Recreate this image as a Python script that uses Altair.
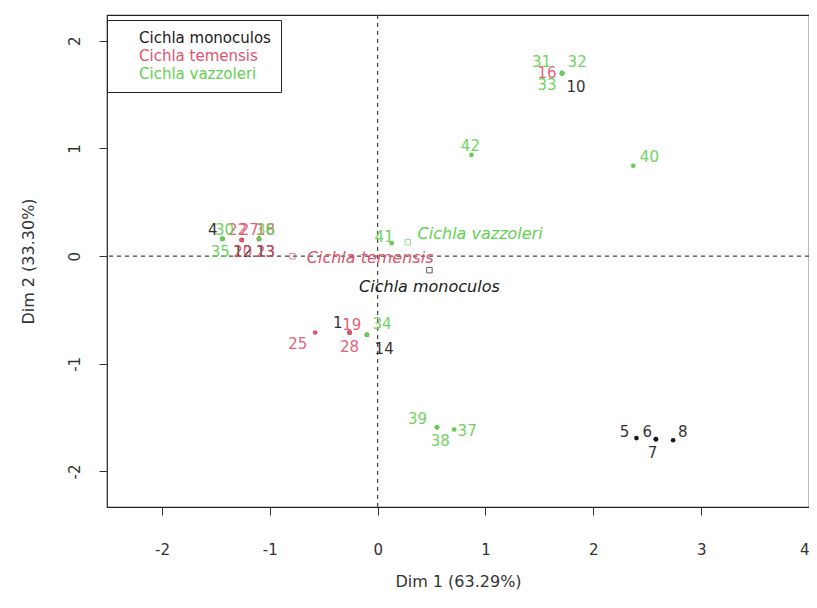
import altair as alt
import pandas as pd

# ---------------- data ----------------
species_names = ["Cichla monoculos", "Cichla temensis", "Cichla vazzoleri"]
species_colors = ["#1a1a1a", "#DF536B", "#61D04F"]

ind_id = ["1", "14", "10", "5", "6", "7", "8", "4", "12", "13",
          "16", "19", "25", "28", "22", "27", "18", "20", "23",
          "30", "31", "32", "33", "34", "35", "36", "37", "38", "39", "40", "41", "42"]
ind_sp = ["Cichla monoculos"] * 10 + ["Cichla temensis"] * 9 + ["Cichla vazzoleri"] * 13
ind_x = [-0.26, -0.10, 1.71, 2.40, 2.58, 2.58, 2.74, -1.44, -1.26, -1.10,
         1.71, -0.26, -0.58, -0.26, -1.26, -1.26, -1.10, -1.26, -1.10,
         -1.44, 1.71, 1.71, 1.71, -0.10, -1.44, -1.10, 0.71, 0.55, 0.55, 2.37, 0.13, 0.87]
ind_y = [-0.71, -0.73, 1.70, -1.69, -1.70, -1.70, -1.71, 0.16, 0.15, 0.16,
         1.70, -0.71, -0.71, -0.71, 0.15, 0.15, 0.16, 0.15, 0.16,
         0.16, 1.70, 1.70, 1.70, -0.73, 0.16, 0.16, -1.61, -1.59, -1.59, 0.84, 0.12, 0.94]
lab_x = [-0.37, 0.06, 1.84, 2.29, 2.50, 2.55, 2.83, -1.53, -1.25, -1.04,
         1.57, -0.24, -0.74, -0.26, -1.30, -1.19, -1.04, -1.25, -1.04,
         -1.42, 1.52, 1.85, 1.57, 0.04, -1.46, -1.04, 0.83, 0.58, 0.37, 2.52, 0.06, 0.86]
lab_y = [-0.62, -0.86, 1.57, -1.63, -1.63, -1.83, -1.63, 0.24, 0.04, 0.04,
         1.70, -0.64, -0.82, -0.84, 0.24, 0.24, 0.24, 0.04, 0.04,
         0.24, 1.80, 1.80, 1.59, -0.63, 0.04, 0.24, -1.62, -1.72, -1.51, 0.92, 0.18, 1.02]

cent_x = [0.48, -0.79, 0.28]
cent_y = [-0.13, 0.00, 0.13]
cent_lx = [0.48, -0.07, 0.95]
cent_ly = [-0.29, -0.02, 0.21]

x_ticks = [-2, -1, 0, 1, 2, 3, 4]
y_ticks = [-2, -1, 0, 1, 2]
x_domain = [-2.51, 4.0]
y_domain = [-2.33, 2.24]

ind = pd.DataFrame({"id": ind_id, "species": ind_sp, "x": ind_x, "y": ind_y,
                    "lx": lab_x, "ly": lab_y})
cent = pd.DataFrame({"species": species_names, "x": cent_x, "y": cent_y,
                     "lx": cent_lx, "ly": cent_ly})
zero = pd.DataFrame({"v": [0]})

FONT = "DejaVu Sans"

xscale = alt.Scale(domain=x_domain, nice=False, zero=False)
yscale = alt.Scale(domain=y_domain, nice=False, zero=False)
cscale = alt.Scale(domain=species_names, range=species_colors)

x_axis = alt.Axis(title="Dim 1 (63.29%)", values=x_ticks, grid=False, domain=False,
                  tickSize=8, tickColor="#333", labelPadding=27, labelFontSize=15,
                  labelFont=FONT, labelColor="#333", titleFont=FONT, titleFontSize=16,
                  titleFontWeight="normal", titleColor="#333", titlePadding=16,
                  labelExpr="'' + datum.value")
y_axis = alt.Axis(title="Dim 2 (33.30%)", values=y_ticks, grid=False, domain=False,
                  tickSize=8, tickColor="#333", labelPadding=17, labelFontSize=15,
                  labelFont=FONT, labelColor="#333", labelAngle=-90, labelAlign="center",
                  labelBaseline="bottom", titleFont=FONT, titleFontSize=16,
                  titleFontWeight="normal", titleColor="#333", titlePadding=31,
                  labelExpr="'' + datum.value")

legend = alt.Legend(orient="none", legendX=0, legendY=5, title=None,
                    strokeColor="#222", fillColor="white", padding=10,
                    symbolOpacity=0, symbolSize=100, labelOffset=7, rowPadding=2,
                    labelFont=FONT, labelFontSize=15, cornerRadius=0,
                    labelColor=alt.ExprRef(expr="datum.label == 'Cichla temensis' ? '#DF536B' : datum.label == 'Cichla vazzoleri' ? '#61D04F' : '#1a1a1a'"))

vrule = alt.Chart(zero).mark_rule(strokeDash=[4, 4], color="#444", strokeWidth=1.2).encode(
    x=alt.X("v:Q", scale=xscale, axis=x_axis))
hrule = alt.Chart(zero).mark_rule(strokeDash=[4, 4], color="#444", strokeWidth=1.2).encode(
    y=alt.Y("v:Q", scale=yscale, axis=y_axis))

points = alt.Chart(ind).mark_circle(size=22, opacity=1).encode(
    x=alt.X("x:Q", scale=xscale, axis=x_axis),
    y=alt.Y("y:Q", scale=yscale, axis=y_axis),
    color=alt.Color("species:N", scale=cscale, legend=legend))

labels = alt.Chart(ind).mark_text(font=FONT, fontSize=15, opacity=0.9).encode(
    x=alt.X("lx:Q", scale=xscale, axis=x_axis),
    y=alt.Y("ly:Q", scale=yscale, axis=y_axis),
    text="id:N",
    color=alt.Color("species:N", scale=cscale, legend=None))

squares = alt.Chart(cent).mark_point(shape="square", filled=False, size=30, strokeWidth=1).encode(
    x=alt.X("x:Q", scale=xscale, axis=x_axis),
    y=alt.Y("y:Q", scale=yscale, axis=y_axis),
    color=alt.Color("species:N", scale=cscale, legend=None))

cent_labels = alt.Chart(cent).mark_text(font=FONT, fontSize=16, fontStyle="italic").encode(
    x=alt.X("lx:Q", scale=xscale, axis=x_axis),
    y=alt.Y("ly:Q", scale=yscale, axis=y_axis),
    text="species:N",
    color=alt.Color("species:N", scale=cscale, legend=None))

chart = alt.layer(vrule, hrule, points, labels, squares, cent_labels).properties(
    width=702, height=492,
    autosize=alt.AutoSizeParams(type="none"),
    padding={"left": 99, "top": 7, "right": 0, "bottom": 85},
).configure_view(stroke="#222", strokeWidth=1.2)

chart.save("out.html", embed_options={"renderer": "svg", "actions": False})
